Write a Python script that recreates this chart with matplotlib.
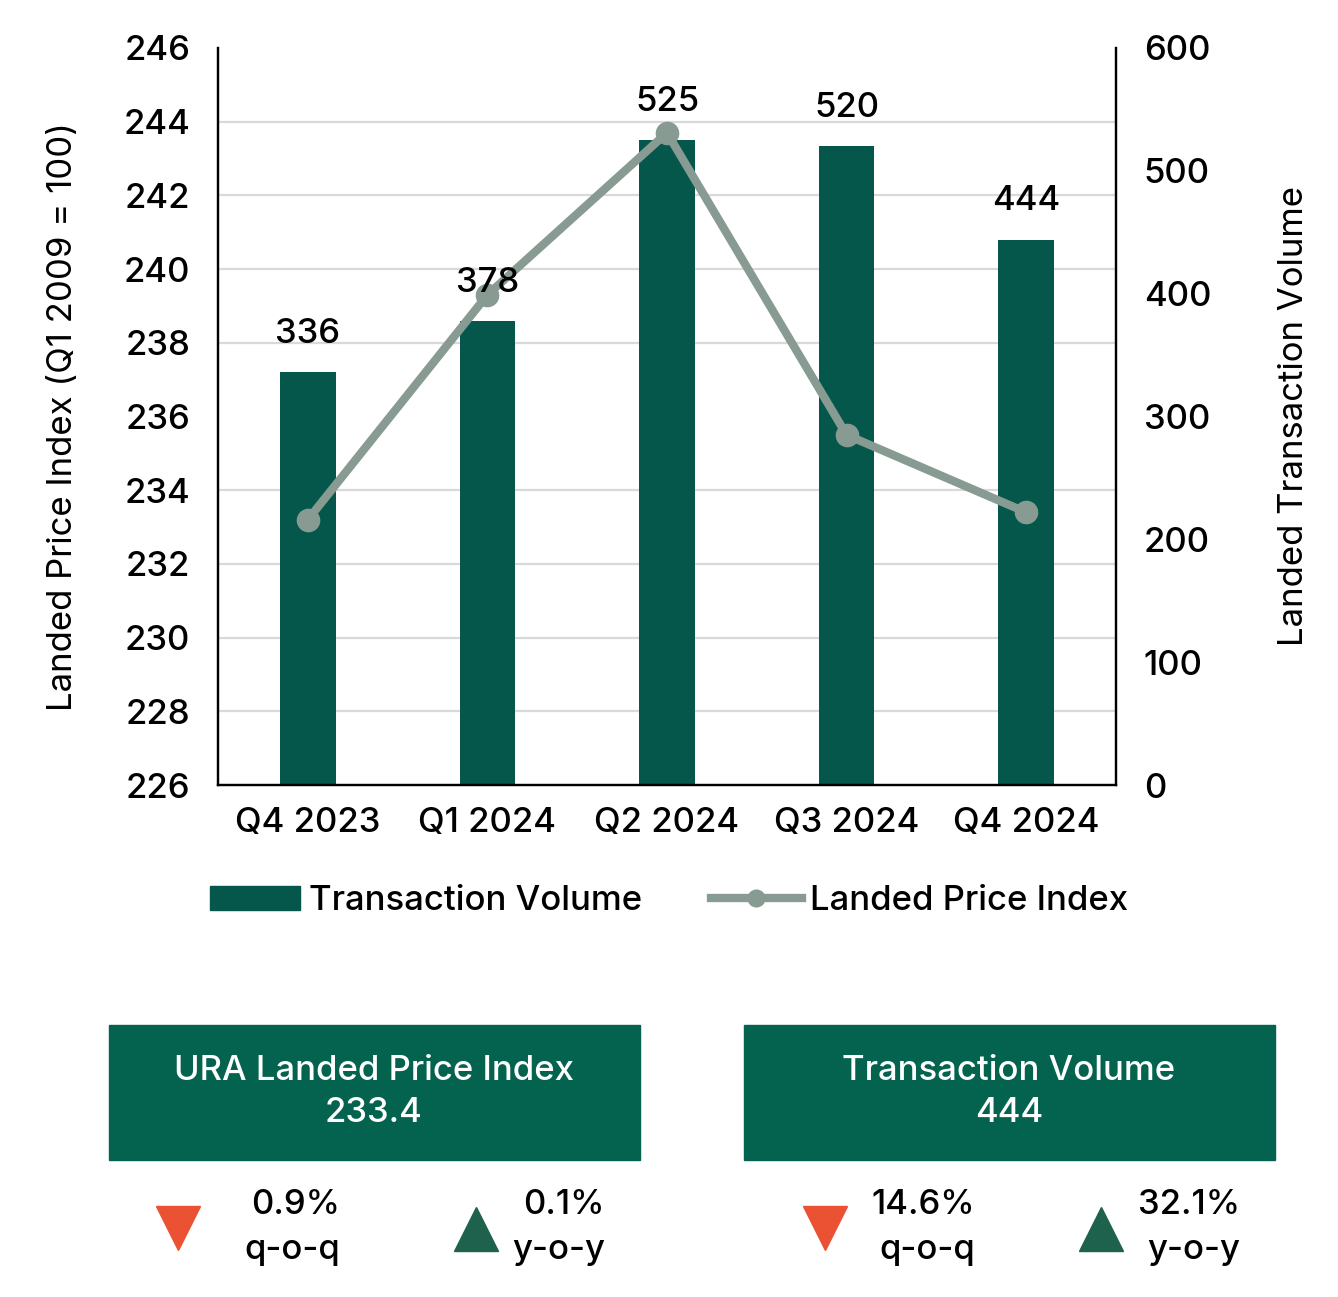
import matplotlib
matplotlib.use("Agg")
import matplotlib.pyplot as plt
from matplotlib.patches import Rectangle, Patch
from matplotlib.lines import Line2D
import numpy as np

plt.rcParams['font.family'] = ['Inter', 'DejaVu Sans']
plt.rcParams['font.weight'] = 'medium'

quarters = ["Q4 2023", "Q1 2024", "Q2 2024", "Q3 2024", "Q4 2024"]
volume = [336, 378, 525, 520, 444]
price_index = [233.2, 239.3, 243.7, 235.5, 233.4]

box_titles = ["URA Landed Price Index", "Transaction Volume"]
box_values = ["233.4", "444"]
qoq_change = ["0.9%", "14.6%"]
yoy_change = ["0.1%", "32.1%"]
qoq_up = [False, False]
yoy_up = [True, True]

bar_color = "#04574A"
line_color = "#879B92"
box_color = "#03634F"
red = "#EA5233"
green = "#1E614C"
fs = 25

W, H = 1338, 1297
fig = plt.figure(figsize=(W / 100, H / 100), dpi=100)

# main chart: bars on primary (right side), line on twin (left side)
ax = fig.add_axes([218 / W, 1 - 785 / H, (1116 - 218) / W, (785 - 48) / H])
ax2 = ax.twinx()
ax.yaxis.tick_right()
ax.yaxis.set_label_position('right')
ax2.yaxis.tick_left()
ax2.yaxis.set_label_position('left')

x = np.arange(len(quarters))
ax.bar(x, volume, width=0.31, color=bar_color, zorder=2)
ax.set_ylim(0, 600)
ax.set_yticks(np.arange(0, 601, 100))
ax.set_yticks(np.arange(0, 601, 60), minor=True)
ax.grid(True, which='minor', axis='y', color='#D9D9D9', linewidth=1.6)
ax.tick_params(axis='y', which='minor', length=0)
ax.set_axisbelow(True)
ax.set_xlim(-0.5, len(quarters) - 0.5)
ax.set_xticks(x)
ax.set_xticklabels(quarters)
ax.set_ylabel("Landed Transaction Volume", fontsize=fs, labelpad=48)

ax2.plot(x, price_index, color=line_color, linewidth=6, marker='o',
         markersize=16, solid_capstyle='round', zorder=3)
ax2.set_ylim(226, 246)
ax2.set_yticks(np.arange(226, 247, 2))
ax2.set_ylabel("Landed Price Index (Q1 2009 = 100)", fontsize=fs, labelpad=32)

# value labels above bars, drawn on top of the line
for xi, v in zip(x, volume):
    ax2.annotate(str(v), (xi, v), xycoords=ax.transData, xytext=(0, 21),
                 textcoords='offset points', ha='center', va='baseline',
                 fontsize=fs, zorder=5)

for a in (ax, ax2):
    a.spines['top'].set_visible(False)
    for s in ('left', 'right', 'bottom'):
        a.spines[s].set_linewidth(1.6)
        a.spines[s].set_color('black')
    a.tick_params(axis='both', which='major', length=0, labelsize=fs)
ax.tick_params(axis='x', pad=16)
ax.tick_params(axis='y', pad=20)
ax2.tick_params(axis='y', pad=20)

handles = [Patch(color=bar_color, label="Transaction Volume"),
           Line2D([], [], color=line_color, linewidth=6, marker='o',
                  markersize=12, label="Landed Price Index")]
fig.legend(handles=handles, loc='center', bbox_to_anchor=(0.5, 1 - 901 / H),
           ncol=2, frameon=False, fontsize=fs, handlelength=2.6,
           handletextpad=0.25, columnspacing=2.0)

# summary boxes
ov = fig.add_axes([0, 0, 1, 1])
ov.set_xlim(0, W)
ov.set_ylim(H, 0)
ov.axis('off')

box_left = [109, 744]
qoq_tri = [69, 81]
yoy_tri = [367, 357]
for i in range(2):
    bx = box_left[i]
    ov.add_patch(Rectangle((bx, 1025), 531, 135, color=box_color))
    cx = bx + 265
    ov.text(cx, 1071, box_titles[i], color='white', fontsize=fs,
            ha='center', va='center')
    ov.text(cx, 1113, box_values[i], color='white', fontsize=fs,
            ha='center', va='center')

    # q-o-q indicator
    ov.plot(bx + qoq_tri[i], 1228, marker='^' if qoq_up[i] else 'v',
            markersize=31, color=green if qoq_up[i] else red, linestyle='none')
    ov.text(bx + 231, 1205, qoq_change[i], fontsize=fs, ha='right', va='center')
    ov.text(bx + 231, 1250, "q-o-q", fontsize=fs, ha='right', va='center')

    # y-o-y indicator
    ov.plot(bx + yoy_tri[i], 1229, marker='^' if yoy_up[i] else 'v',
            markersize=31, color=green if yoy_up[i] else red, linestyle='none')
    ov.text(bx + 496, 1205, yoy_change[i], fontsize=fs, ha='right', va='center')
    ov.text(bx + 496, 1250, "y-o-y", fontsize=fs, ha='right', va='center')

fig.savefig("out.png", dpi=100)
